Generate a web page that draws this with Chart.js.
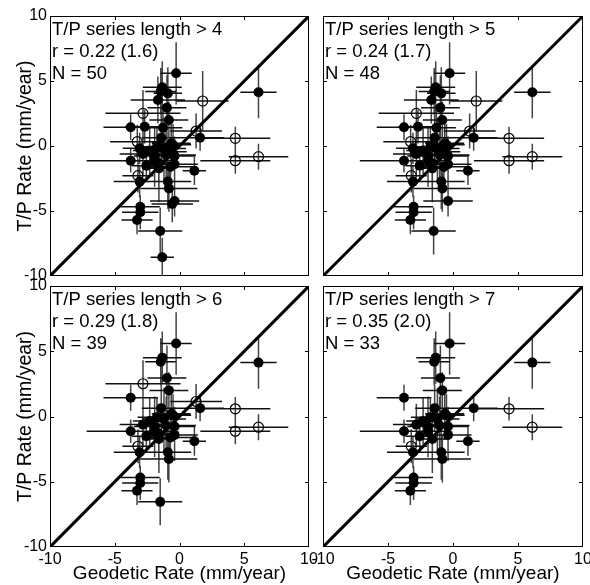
<!DOCTYPE html>
<html>
<head>
<meta charset="utf-8">
<script src="https://cdn.jsdelivr.net/npm/chart.js@4.4.1/dist/chart.umd.min.js"></script>
<style>
  body { margin: 0; background: #fff; }
  #wrap { position: relative; width: 590px; height: 585px; }
  #wrap canvas { position: absolute; left: 0; top: 0; }
</style>
</head>
<body>
<div id="wrap">
  <canvas id="p0" width="590" height="585"></canvas>
  <canvas id="p1" width="590" height="585"></canvas>
  <canvas id="p2" width="590" height="585"></canvas>
  <canvas id="p3" width="590" height="585"></canvas>
</div>
<script>
// stations: geodetic rate vs T/P rate (mm/year), with 1-sigma errors
const geoRate = [-0.26, 6.10, -1.33, -1.45, -0.90, -1.67, -0.97, -0.82, -3.77, -2.69,
                 -1.28, -1.41, 1.59, -0.64, -1.74, -3.08, -2.82, -1.92, -1.03, -0.38,
                 -3.77, -1.92, -0.64, -0.38, -2.56, -1.59, 1.15, -3.08, -0.90, -0.82,
                 -0.38, -0.56, -3.03, -3.03, -3.28, -1.49, -1.33,
                 1.79, -2.82, -3.26, 4.31, 1.28, 6.10, 4.31, -3.21,
                 -2.30, -1.20, -0.50, -1.60, -0.70];
const tpRate = [5.59, 4.13, 4.51, 4.20, 4.05, 3.54, 2.95, 2.00, 1.44, 1.49,
                1.41, 0.64, 0.64, 0.21, -0.05, -0.18, -0.62, -0.77, -0.69, -0.77,
                -1.13, -1.13, -0.44, -1.41, -1.51, -1.72, -1.90, -2.74, -2.74, -3.26,
                -4.23, -4.46, -4.67, -5.10, -5.69, -6.54, -8.56,
                3.46, 2.51, 0.33, 0.59, 1.15, -0.82, -1.13, -2.28,
                -0.35, -0.20, 0.10, -1.30, -1.60];
const geoErr = [1.2, 1.4, 1.5, 1.2, 1.1, 2.1, 1.5, 1.5, 2.1, 1.5,
                1.5, 1.5, 1.85, 1.5, 1.5, 1.3, 1.8, 1.6, 2.3, 1.6,
                3.4, 1.3, 1.2, 1.8, 1.1, 1.3, 0.9, 2.0, 1.8, 2.2,
                1.9, 1.6, 1.5, 1.4, 1.2, 1.7, 0.9,
                2.0, 2.9, 2.1, 2.7, 2.0, 2.3, 2.7, 1.2,
                1.3, 1.7, 1.4, 1.0, 2.0];
const tpErr = [2.4, 2.0, 2.0, 1.8, 2.0, 1.8, 2.5, 1.4, 1.0, 1.3,
               1.4, 1.8, 1.0, 2.0, 1.5, 1.2, 1.6, 2.3, 2.2, 1.5,
               0.9, 2.0, 1.6, 2.0, 1.2, 2.6, 1.1, 1.2, 2.1, 1.8,
               1.2, 1.4, 0.8, 1.3, 1.1, 1.8, 1.5,
               2.3, 1.8, 1.3, 0.9, 1.35, 1.0, 1.0, 1.3,
               1.8, 2.4, 1.6, 1.9, 1.5];
const isOpen = [0, 0, 0, 0, 0, 0, 0, 0, 0, 0,
                0, 0, 0, 0, 0, 0, 0, 0, 0, 0,
                0, 0, 0, 0, 0, 0, 0, 0, 0, 0,
                0, 0, 0, 0, 0, 0, 0,
                1, 1, 1, 1, 1, 1, 1, 1,
                0, 0, 0, 0, 0];
const seriesLength = [8, 8, 8, 8, 6, 6, 8, 8, 8, 6,
                      6, 8, 8, 8, 8, 6, 8, 8, 8, 8,
                      8, 8, 6, 8, 8, 8, 8, 8, 8, 8,
                      6, 5, 8, 8, 8, 7, 5,
                      6, 7, 6, 8, 7, 8, 7, 8,
                      8, 8, 8, 7, 7];

const minLength = [4, 5, 6, 7];
const rText = ['0.22 (1.6)', '0.24 (1.7)', '0.29 (1.8)', '0.35 (2.0)'];
const nText = [50, 48, 39, 33];
const tickValues = [-10, -5, 0, 5, 10];

Chart.defaults.font.family = '"Liberation Sans", Arial, Helvetica, sans-serif';
Chart.defaults.color = '#000';

const panelDeco = {
  id: 'panelDeco',
  beforeDatasetsDraw(chart, args, opts) {
    const {ctx, chartArea: a, scales} = chart;
    ctx.save();
    ctx.strokeStyle = '#000';
    ctx.lineWidth = 1;
    ctx.strokeRect(a.left + 0.5, a.top + 0.5, a.right - a.left - 1, a.bottom - a.top - 1);
    ctx.beginPath();
    scales.x.ticks.forEach(t => {
      if (t.value <= -10 || t.value >= 10) return;
      const px = Math.round(scales.x.getPixelForValue(t.value)) + 0.5;
      ctx.moveTo(px, a.bottom); ctx.lineTo(px, a.bottom - 4);
      ctx.moveTo(px, a.top); ctx.lineTo(px, a.top + 4);
    });
    scales.y.ticks.forEach(t => {
      if (t.value <= -10 || t.value >= 10) return;
      const py = Math.round(scales.y.getPixelForValue(t.value)) + 0.5;
      ctx.moveTo(a.left, py); ctx.lineTo(a.left + 4, py);
      ctx.moveTo(a.right, py); ctx.lineTo(a.right - 4, py);
    });
    ctx.stroke();
    ctx.fillStyle = '#000';
    ctx.font = '18.5px "Liberation Sans", Arial, sans-serif';
    ctx.textBaseline = 'alphabetic';
    opts.lines.forEach((s, i) => ctx.fillText(s, a.left + 2, a.top + 19 + i * 22));
    ctx.restore();
  }
};

function makePanel(k) {
  const col = k % 2, row = Math.floor(k / 2);
  const left = col ? 323 : 50, right = col ? 583 : 309;
  const top = row ? 286 : 16, bottom = row ? 547 : 276;

  const idx = [];
  for (let i = 0; i < geoRate.length; i++) {
    if (seriesLength[i] > minLength[k]) idx.push(i);
  }
  const filled = idx.filter(i => !isOpen[i]).map(i => ({x: geoRate[i], y: tpRate[i]}));
  const open = idx.filter(i => isOpen[i]).map(i => ({x: geoRate[i], y: tpRate[i]}));
  const hbars = [], vbars = [];
  idx.forEach(i => {
    hbars.push({x: geoRate[i] - geoErr[i], y: tpRate[i]}, {x: geoRate[i] + geoErr[i], y: tpRate[i]}, {x: null, y: null});
    vbars.push({x: geoRate[i], y: tpRate[i] - tpErr[i]}, {x: geoRate[i], y: tpRate[i] + tpErr[i]}, {x: null, y: null});
  });

  new Chart(document.getElementById('p' + k).getContext('2d'), {
    type: 'scatter',
    data: {
      datasets: [
        {data: filled, pointRadius: 5, pointBackgroundColor: '#000', pointBorderColor: '#000', borderWidth: 0},
        {data: open, pointRadius: 5, pointBackgroundColor: 'rgba(0,0,0,0)', pointBorderColor: '#000', pointBorderWidth: 1.2},
        {data: [{x: -10, y: -10}, {x: 10, y: 10}], showLine: true, borderColor: '#000', borderWidth: 3, pointRadius: 0},
        {data: hbars, showLine: true, spanGaps: false, borderColor: '#111', borderWidth: 1.5, pointRadius: 0},
        {data: vbars, showLine: true, spanGaps: false, borderColor: '#444', borderWidth: 1.5, pointRadius: 0}
      ]
    },
    options: {
      responsive: false,
      animation: false,
      events: [],
      layout: {padding: {left: 0, top: top, right: 590 - right, bottom: row ? 0 : 585 - bottom}},
      plugins: {
        legend: {display: false},
        tooltip: {enabled: false},
        panelDeco: {lines: ['T/P series length > ' + minLength[k], 'r = ' + rText[k], 'N = ' + nText[k]]}
      },
      scales: {
        x: {
          min: -10, max: 10,
          afterBuildTicks: s => { s.ticks = tickValues.map(v => ({value: v})); },
          ticks: {display: row === 1, font: {size: 16}, padding: 3, maxRotation: 0, autoSkip: false},
          grid: {display: false, drawTicks: false},
          border: {display: false},
          title: {display: row === 1, text: 'Geodetic Rate (mm/year)', font: {size: 19}, padding: {top: 0, bottom: 0}},
          afterFit: s => { s.height = row ? 585 - bottom : 0; s.paddingLeft = 0; s.paddingRight = 0; }
        },
        y: {
          min: -10, max: 10,
          afterBuildTicks: s => { s.ticks = tickValues.map(v => ({value: v})); },
          ticks: {display: col === 0, font: {size: 16}, padding: 3, autoSkip: false},
          grid: {display: false, drawTicks: false},
          border: {display: false},
          title: {display: col === 0, text: 'T/P Rate (mm/year)', font: {size: 19.5}, padding: {top: 14, bottom: 0}},
          afterFit: s => { s.width = left; s.paddingTop = 0; s.paddingBottom = 0; }
        }
      }
    },
    plugins: [panelDeco]
  });
}

[0, 1, 2, 3].forEach(makePanel);
</script>
</body>
</html>
